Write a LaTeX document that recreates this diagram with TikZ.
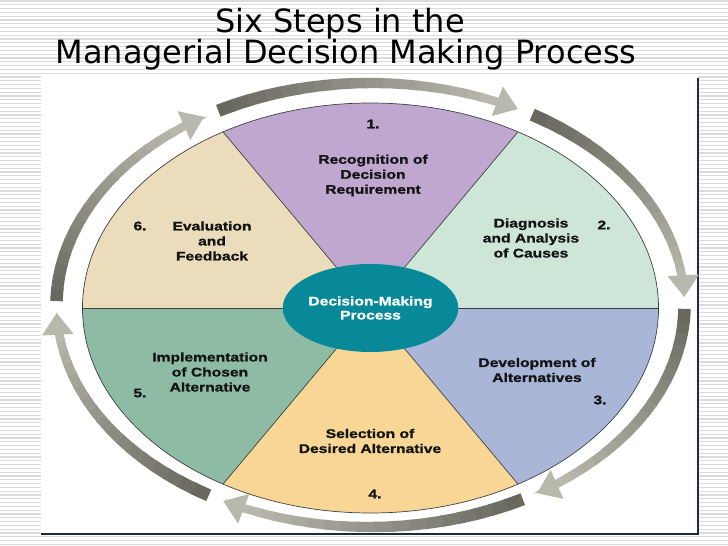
\documentclass[tikz,border=0pt]{standalone}
\usepackage{fontspec}
\usetikzlibrary{shapes.geometric,arrows.meta}
\newfontfamily\titlefont{DejaVu Sans}
\newfontfamily\labfont[FakeStretch=1.25,FakeBold=1.2]{Liberation Sans}
\definecolor{segA}{HTML}{C0A7D0}
\definecolor{segB}{HTML}{CEE6D7}
\definecolor{segC}{HTML}{A9B6D8}
\definecolor{segD}{HTML}{F8D796}
\definecolor{segE}{HTML}{8DBBA3}
\definecolor{segF}{HTML}{EBDCBC}
\definecolor{coreteal}{HTML}{08899A}
\definecolor{adark}{HTML}{68685F}
\definecolor{alight}{HTML}{B8B8AD}
\definecolor{navyedge}{HTML}{1C2B40}
\tikzset{
  stripe/.style={draw=black!14, line width=1.2pt},
  boxedge/.style={draw=navyedge, line width=1.5pt},
  titletext/.style={font=\titlefont\fontsize{32}{38}\selectfont, anchor=base, inner sep=0pt},
  lab/.style={font=\labfont\bfseries\fontsize{12.5}{15}\selectfont, align=center, inner sep=0pt, text=black!92},
  pieline/.style={draw=black!75, line width=0.7pt},
  core/.style={ellipse, fill=coreteal, minimum width=163pt, minimum height=88pt, inner sep=0pt,
    align=center, text=white, font=\labfont\bfseries\fontsize{12.5}{14}\selectfont},
  pie/.style={x radius=288, y radius=205},
  ring/.style={x radius=314, y radius=222},
}
\newcommand\gradarrow[2]{%
  \pgfmathsetmacro\angH{#2+7}%
  \foreach \i in {0,...,15}{%
    \pgfmathsetmacro\angA{#1+(\angH-(#1))*\i/16}%
    \pgfmathsetmacro\angB{#1+(\angH-(#1))*(\i+1)/16-0.4}%
    \pgfmathsetmacro\pctD{100-100*\i/16}%
    \pgfmathsetmacro\bw{12.5-4*\i/16}%
    \draw[line width=\bw pt, draw=adark!\pctD!alight] (\angA:314 and 222) arc[start angle=\angA, end angle=\angB, ring];
  }%
  \pgfmathsetmacro\angS{\angH+0.5}%
  \draw[line width=8.5pt, draw=alight, -{Triangle[length=22pt,width=30pt]}] (\angS:314 and 222) arc[start angle=\angS, end angle=#2, ring];
}
\begin{document}
\begin{tikzpicture}[x=1pt,y=1pt]
\useasboundingbox (0,0) rectangle (728,546);
\fill[white] (0,0) rectangle (728,546);
% striped background
\foreach \i in {0,...,143}{
  \pgfmathsetmacro\yy{545-\i*3.8}
  \draw[stripe] (0,\yy) -- (728,\yy);
}
% white panel
\fill[white] (41,12) rectangle (698,470);
\draw[boxedge] (41,12) -- (698,12) -- (698,468);
% title
\node[titletext] (t1) at (340,513) {Six Steps in the};
\node[titletext] (t2) at (346,482) {Managerial Decision Making Process};
% pie
\begin{scope}[shift={(370.5,238)}]
  \fill[segA] (0,0) -- (59.2:288 and 205) arc[start angle=59.2, end angle=120.8, pie] -- cycle;
  \fill[segB] (0,0) -- (0:288 and 205) arc[start angle=0, end angle=59.2, pie] -- cycle;
  \fill[segC] (0,0) -- (-59.2:288 and 205) arc[start angle=-59.2, end angle=0, pie] -- cycle;
  \fill[segD] (0,0) -- (-120.8:288 and 205) arc[start angle=-120.8, end angle=-59.2, pie] -- cycle;
  \fill[segE] (0,0) -- (180:288 and 205) arc[start angle=180, end angle=239.2, pie] -- cycle;
  \fill[segF] (0,0) -- (120.8:288 and 205) arc[start angle=120.8, end angle=180, pie] -- cycle;
  \draw[pieline] (0,0) ellipse [pie];
  \draw[pieline] (180:288 and 205) -- (0:288 and 205);
  \draw[pieline] (120.8:288 and 205) -- (-59.2:288 and 205);
  \draw[pieline] (59.2:288 and 205) -- (-120.8:288 and 205);
\end{scope}
% circular arrows
\begin{scope}[shift={(370.5,241)}]
  \gradarrow{119}{62}
  \gradarrow{59}{2}
  \gradarrow{-1}{-58}
  \gradarrow{-61}{-118}
  \gradarrow{-121}{-178}
  \gradarrow{179}{122}
\end{scope}
% centre
\node[core] (core) at (370.5,238) {Decision-Making\\Process};
% labels
\node[lab] (n1) at (373,422) {1.};
\node[lab] (s1) at (373,370.5) {Recognition of\\Decision\\Requirement};
\node[lab] (n2) at (604,321) {2.};
\node[lab] (s2) at (531,308) {Diagnosis\\and Analysis\\of Causes};
\node[lab] (n3) at (600,146) {3.};
\node[lab] (s3) at (537,176) {Development of\\Alternatives};
\node[lab] (n4) at (375,52) {4.};
\node[lab] (s4) at (370,105) {Selection of\\Desired Alternative};
\node[lab] (n5) at (140,153) {5.};
\node[lab] (s5) at (210,174) {Implementation\\of Chosen\\Alternative};
\node[lab] (n6) at (140,320) {6.};
\node[lab] (s6) at (212,305) {Evaluation\\and\\Feedback};
\end{tikzpicture}
\end{document}
